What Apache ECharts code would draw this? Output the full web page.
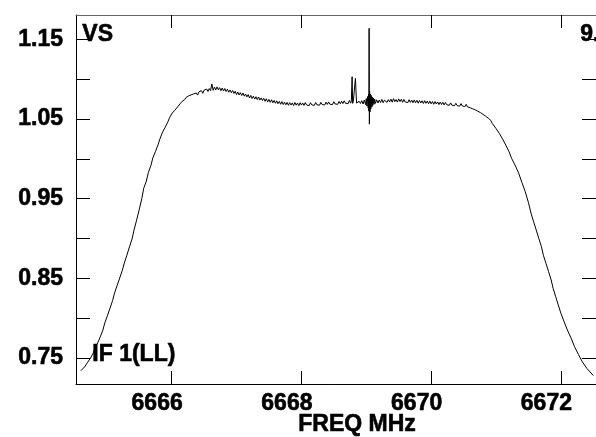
<!DOCTYPE html>
<html>
<head>
<meta charset="utf-8">
<script src="https://cdn.jsdelivr.net/npm/echarts@6/dist/echarts.min.js"></script>
<style>
html,body{margin:0;padding:0;background:#fff;}
#chart{width:596px;height:437px;}
</style>
</head>
<body>
<div id="chart"></div>
<script>
// [frequency MHz, flux], in three parts
const leftEdge = [
[6664.60,0.7340],[6664.63,0.7365],[6664.66,0.7390],[6664.68,0.7410],[6664.70,0.7440],
[6664.72,0.7430],[6664.75,0.7500],[6664.79,0.7560],[6664.82,0.7625],[6664.86,0.7690],
[6664.90,0.7765],[6664.94,0.7850],[6664.97,0.7940],[6665.01,0.8030],[6665.05,0.8125],
[6665.09,0.8220],[6665.12,0.8315],[6665.16,0.8410],[6665.20,0.8505],[6665.24,0.8600],
[6665.27,0.8690],[6665.31,0.8790],[6665.35,0.8895],[6665.39,0.8995],[6665.42,0.9105],
[6665.46,0.9230],[6665.50,0.9360],[6665.54,0.9500],[6665.57,0.9630],[6665.61,0.9720],
[6665.64,0.9825],[6665.68,0.9915],[6665.71,1.0010],[6665.75,1.0090],[6665.79,1.0175],
[6665.82,1.0250],[6665.86,1.0335],[6665.90,1.0395],[6665.94,1.0460],[6665.97,1.0520],
[6666.01,1.0575],[6666.05,1.0610],[6666.09,1.0650],[6666.13,1.0690],[6666.16,1.0720]
];
const plateau = [
[6666.20,1.0742],[6666.22,1.0768],[6666.24,1.0750],[6666.26,1.0789],[6666.28,1.0766],
[6666.30,1.0803],[6666.32,1.0781],[6666.34,1.0815],[6666.36,1.0790],[6666.38,1.0826],
[6666.40,1.0800],[6666.42,1.0840],[6666.44,1.0815],[6666.46,1.0855],[6666.48,1.0822],
[6666.50,1.0861],[6666.52,1.0836],[6666.54,1.0876],[6666.56,1.0845],[6666.58,1.0882],
[6666.60,1.0855],[6666.62,1.0940],[6666.64,1.0860],[6666.66,1.0900],[6666.68,1.0864],
[6666.70,1.0903],[6666.72,1.0866],[6666.74,1.0893],[6666.76,1.0855],[6666.78,1.0889],
[6666.80,1.0851],[6666.82,1.0882],[6666.84,1.0845],[6666.86,1.0874],[6666.88,1.0836],
[6666.90,1.0864],[6666.92,1.0830],[6666.94,1.0857],[6666.96,1.0821],[6666.98,1.0848],
[6667.00,1.0805],[6667.02,1.0838],[6667.04,1.0801],[6667.06,1.0830],[6667.08,1.0794],
[6667.10,1.0826],[6667.12,1.0786],[6667.14,1.0813],[6667.16,1.0777],[6667.18,1.0806],
[6667.20,1.0763],[6667.22,1.0796],[6667.24,1.0757],[6667.26,1.0786],[6667.28,1.0750],
[6667.30,1.0779],[6667.32,1.0743],[6667.34,1.0776],[6667.36,1.0737],[6667.38,1.0765],
[6667.40,1.0731],[6667.42,1.0760],[6667.44,1.0722],[6667.46,1.0754],[6667.48,1.0715],
[6667.50,1.0745],[6667.52,1.0709],[6667.54,1.0741],[6667.56,1.0704],[6667.58,1.0733],
[6667.60,1.0697],[6667.62,1.0728],[6667.64,1.0691],[6667.66,1.0721],[6667.68,1.0685],
[6667.70,1.0718],[6667.72,1.0681],[6667.74,1.0711],[6667.76,1.0678],[6667.78,1.0708],
[6667.80,1.0672],[6667.82,1.0705],[6667.84,1.0675],[6667.86,1.0702],[6667.88,1.0669],
[6667.90,1.0707],[6667.92,1.0673],[6667.94,1.0700],[6667.96,1.0667],[6667.98,1.0704],
[6668.00,1.0674],[6668.02,1.0701],[6668.04,1.0670],[6668.06,1.0706],[6668.08,1.0676],
[6668.10,1.0698],[6668.12,1.0668],[6668.14,1.0705],[6668.16,1.0677],[6668.18,1.0699],
[6668.20,1.0671],[6668.22,1.0707],[6668.24,1.0678],[6668.26,1.0702],[6668.28,1.0673],
[6668.30,1.0709],[6668.32,1.0681],[6668.34,1.0704],[6668.36,1.0676],[6668.38,1.0711],
[6668.40,1.0683],[6668.42,1.0714],[6668.44,1.0685],[6668.46,1.0708],[6668.48,1.0681],
[6668.50,1.0717],[6668.52,1.0688],[6668.54,1.0712],[6668.56,1.0684],[6668.58,1.0720],
[6668.60,1.0691],[6668.62,1.0723],[6668.64,1.0694],[6668.66,1.0728],[6668.68,1.0697],
[6668.70,1.0720],[6668.72,1.0692],[6668.74,1.0733],[6668.76,1.0699],[6668.77,1.0726],
[6668.782,1.1031],[6668.79,1.0696],[6668.80,1.0722],[6668.81,1.0698],[6668.833,1.1010],
[6668.85,1.0700],[6668.87,1.0684],[6668.89,1.0722],[6668.91,1.0695],[6668.93,1.0730],
[6668.95,1.0688],[6668.97,1.0738],[6668.99,1.0680],[6669.00,1.0756],[6669.01,1.0662],
[6669.02,1.0782],[6669.03,1.0636],[6669.035,1.0815],[6669.04,1.0598],[6669.044,1.1638],
[6669.048,1.0435],[6669.052,1.0842],[6669.058,1.0588],[6669.064,1.0812],[6669.07,1.0626],
[6669.078,1.0795],[6669.086,1.0650],[6669.094,1.0776],[6669.10,1.0670],[6669.11,1.0762],
[6669.12,1.0684],[6669.13,1.0750],[6669.14,1.0695],
[6669.16,1.0741],[6669.18,1.0700],[6669.20,1.0738],[6669.22,1.0706],[6669.24,1.0746],
[6669.26,1.0704],[6669.28,1.0737],[6669.30,1.0753],[6669.32,1.0708],[6669.34,1.0743],
[6669.36,1.0714],[6669.38,1.0749],[6669.40,1.0711],[6669.42,1.0755],[6669.44,1.0717],
[6669.46,1.0744],[6669.48,1.0712],[6669.50,1.0752],[6669.52,1.0719],[6669.54,1.0747],
[6669.56,1.0710],[6669.58,1.0745],[6669.60,1.0714],[6669.62,1.0738],[6669.64,1.0705],
[6669.66,1.0742],[6669.68,1.0709],[6669.70,1.0737],[6669.72,1.0703],[6669.74,1.0739],
[6669.76,1.0704],[6669.78,1.0735],[6669.80,1.0698],[6669.82,1.0732],[6669.84,1.0701],
[6669.86,1.0729],[6669.88,1.0695],[6669.90,1.0730],[6669.92,1.0697],[6669.94,1.0725],
[6669.96,1.0692],[6669.98,1.0724],[6670.00,1.0690],[6670.02,1.0719],[6670.04,1.0685],
[6670.06,1.0718],[6670.08,1.0688],[6670.10,1.0714],[6670.12,1.0681],[6670.14,1.0712],
[6670.16,1.0682],[6670.18,1.0710],[6670.20,1.0676],[6670.22,1.0707],[6670.24,1.0679],
[6670.26,1.0704],[6670.28,1.0671],[6670.30,1.0702],[6670.32,1.0673],[6670.34,1.0698],
[6670.36,1.0666],[6670.38,1.0697],[6670.40,1.0669],[6670.42,1.0692],[6670.44,1.0660],
[6670.46,1.0693],[6670.48,1.0663],[6670.50,1.0687],[6670.52,1.0656],[6670.54,1.0684],
[6670.56,1.0652],[6670.58,1.0675],[6670.60,1.0641],[6670.62,1.0663],[6670.64,1.0628],
[6670.66,1.0649],[6670.68,1.0614],[6670.70,1.0636],[6670.72,1.0597],[6670.74,1.0618],
[6670.76,1.0580],[6670.78,1.0598],[6670.80,1.0558],[6670.82,1.0578],[6670.84,1.0535],
[6670.86,1.0554],[6670.88,1.0510],[6670.90,1.0518]
];
const rightEdge = [
[6670.92,1.0482],[6670.94,1.0446],[6670.97,1.0428],[6671.00,1.0380],[6671.02,1.0370],
[6671.05,1.0320],[6671.07,1.0305],[6671.10,1.0250],[6671.12,1.0238],[6671.15,1.0173],
[6671.17,1.0160],[6671.20,1.0090],[6671.22,1.0072],[6671.24,1.0006],[6671.27,0.9985],
[6671.30,0.9910],[6671.32,0.9890],[6671.35,0.9818],[6671.40,0.9700],
[6671.45,0.9590],[6671.50,0.9450],[6671.54,0.9316],[6671.58,0.9210],[6671.62,0.9106],
[6671.66,0.9000],[6671.70,0.8897],[6671.73,0.8790],[6671.77,0.8688],[6671.81,0.8585],
[6671.85,0.8479],[6671.88,0.8375],[6671.92,0.8269],[6671.96,0.8165],[6672.00,0.8061],
[6672.05,0.7955],[6672.10,0.7851],[6672.16,0.7745],[6672.21,0.7642],[6672.27,0.7545],
[6672.33,0.7453],[6672.40,0.7370],[6672.50,0.7280]
];
const xTicks = [6666, 6668, 6670, 6672];
const yTicks = [0.75, 0.80, 0.85, 0.90, 0.95, 1.00, 1.05, 1.10, 1.15];
const yLabels = [0.75, 0.85, 0.95, 1.05, 1.15];
const xName = 'FREQ MHz';
const topLeftText = 'VS';
const topRightText = '9.0';
const bottomLeftText = 'IF 1(LL)';

const FONT = '"Liberation Sans", Arial, sans-serif';
const chart = echarts.init(document.getElementById('chart'), null, {renderer: 'canvas'});
const data = leftEdge.concat(plateau, rightEdge);
const lineStyle = {color: '#000', width: 1};
const xMin = 6664.526, xMax = 6672.541, yMin = 0.7174, yMax = 1.1805;
const labelFont = {color: '#000', fontFamily: FONT, fontWeight: 'bold', fontSize: 23,
  textBorderColor: '#000', textBorderWidth: 0.6};
const baseX = {
  type: 'value', min: xMin, max: xMax,
  axisLine: {show: true, onZero: false, lineStyle: lineStyle},
  splitLine: {show: false},
  axisTick: {show: true, inside: true, length: 13, lineStyle: lineStyle, customValues: xTicks}
};
const baseY = {
  type: 'value', min: yMin, max: yMax,
  axisLine: {show: true, onZero: false, lineStyle: lineStyle},
  splitLine: {show: false},
  axisTick: {show: true, inside: true, length: 14, lineStyle: lineStyle, customValues: yTicks}
};
const txt = (t, extra) => Object.assign({text: t, fill: '#000', font: 'bold 23px ' + FONT,
  stroke: '#000', lineWidth: 0.6}, extra || {});
chart.setOption({
  animation: false,
  backgroundColor: '#fff',
  grid: {left: 76, top: 15, width: 533, height: 369, containLabel: false},
  xAxis: [
    Object.assign({}, baseX, {
      position: 'bottom',
      axisLabel: Object.assign({show: true, customValues: xTicks, margin: 8,
        padding: [0, 29, 0, 0], formatter: v => String(Math.round(v))}, labelFont)
    }),
    Object.assign({}, baseX, {position: 'top', axisLabel: {show: false},
      axisLine: {show: true, onZero: false, lineStyle: {color: '#666', width: 1}}})
  ],
  yAxis: [
    Object.assign({}, baseY, {
      position: 'left',
      axisLabel: Object.assign({show: true, customValues: yLabels, margin: 13,
        formatter: v => v.toFixed(2)}, labelFont)
    }),
    Object.assign({}, baseY, {position: 'right', axisLabel: {show: false}})
  ],
  graphic: [
    {type: 'text', left: 82, top: 23, style: txt(topLeftText)},
    {type: 'text', left: 580, top: 23, style: txt(topRightText)},
    {type: 'text', left: 92, top: 343, style: txt(bottomLeftText)},
    {type: 'text', x: 357, y: 413, style: txt(xName, {align: 'center', verticalAlign: 'top'})}
  ],
  series: [{
    type: 'line', data: data, showSymbol: false, symbol: 'none',
    lineStyle: {color: '#000', width: 1}, clip: true, silent: true
  }]
});
</script>
</body>
</html>
